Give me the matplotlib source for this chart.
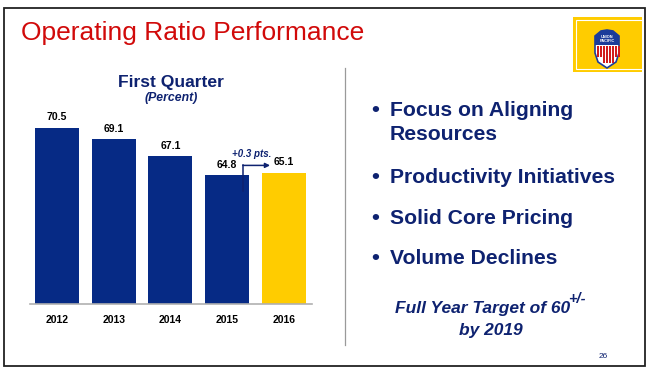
import matplotlib.pyplot as plt
from matplotlib.patches import Rectangle, Polygon

plt.rcParams['font.family'] = ['Liberation Sans', 'DejaVu Sans']

# data
years = ['2012', '2013', '2014', '2015', '2016']
ratios = [70.5, 69.1, 67.1, 64.8, 65.1]
bar_colors = ['#062A85', '#062A85', '#062A85', '#062A85', '#FFCC00']
bullets = ['Focus on Aligning\nResources', 'Productivity Initiatives',
           'Solid Core Pricing', 'Volume Declines']

NAVY = '#0E2270'
W, H = 650, 371


def fx(px):
    return px / W


def fy(py):
    return 1 - py / H


fig = plt.figure(figsize=(6.5, 3.71), dpi=100)
fig.patch.set_facecolor('white')

# slide frame
fig.patches.append(Rectangle((fx(4), fy(366)), fx(641), (366 - 8) / H,
                             transform=fig.transFigure, fill=False,
                             edgecolor='#222222', linewidth=1.3))

# title
fig.text(fx(21), fy(33), 'Operating Ratio Performance', color='#D10A0A',
         fontsize=19, va='center', ha='left')

# logo box (drawn in its own axes, pixel coords)
lax = fig.add_axes([fx(573), fy(72), fx(69), 55 / H], zorder=5)
lax.set_xlim(0, 69)
lax.set_ylim(55, 0)
lax.axis('off')
lax.add_patch(Rectangle((0, 0), 69, 55, facecolor='#FFCC00', edgecolor='none'))
lax.add_patch(Rectangle((3, 3), 70, 49, fill=False, edgecolor='white',
                        linewidth=0.8))
shield = [(22, 19), (28, 14), (34, 13), (40, 14), (46, 19), (46, 36),
          (43, 45), (34, 51), (25, 45), (22, 36)]
lax.add_patch(Polygon(shield, closed=True, facecolor='white',
                      edgecolor='#1B3C9A', linewidth=1.2))
lax.add_patch(Polygon([(22, 19), (28, 14), (34, 13), (40, 14), (46, 19),
                       (46, 28), (22, 28)], closed=True, facecolor='#1B3C9A',
                      edgecolor='none'))
for sx in range(24, 46, 3):
    lax.add_patch(Rectangle((sx, 29), 1.5, 17 if 27 < sx < 42 else 11,
                            facecolor='#D01C1C', edgecolor='none'))
lax.text(34, 19.5, 'UNION', color='white', fontsize=2.8, ha='center',
         va='center', fontweight='bold')
lax.text(34, 24.5, 'PACIFIC', color='white', fontsize=2.8, ha='center',
         va='center', fontweight='bold')

# separator
fig.add_artist(plt.Line2D([fx(345), fx(345)], [fy(68), fy(345)],
                          color='#9A9A9A', linewidth=0.9))

# bar chart
ax = fig.add_axes([fx(30), fy(304), fx(282), 189 / H])
x = list(range(len(years)))
ax.bar(x, ratios, width=0.78, color=bar_colors)
ax.set_ylim(49.5, 72)
ax.set_xlim(-0.477, 4.5)
for s in ['top', 'right', 'left']:
    ax.spines[s].set_visible(False)
ax.spines['bottom'].set_color('#B0B0B0')
ax.spines['bottom'].set_linewidth(1.2)
ax.set_yticks([])
ax.set_xticks(x)
ax.set_xticklabels(years, fontsize=7.5, fontweight='bold')
ax.tick_params(axis='x', length=0, pad=8)

for i, v in enumerate(ratios):
    ax.annotate(f'{v:.1f}', (i, v), xytext=(0, 4),
                textcoords='offset points', ha='center', va='bottom',
                fontsize=7.5, fontweight='bold')

# +0.3 pts. annotation
ax.plot([3.29, 3.29], [63.0, 66.0], color=NAVY, linewidth=1.1)
ax.annotate('', xy=(3.76, 66.0), xytext=(3.28, 66.0),
            arrowprops=dict(arrowstyle='-|>', color=NAVY, lw=1.1,
                            mutation_scale=7, shrinkA=0, shrinkB=0))
ax.text(3.43, 67.3, '+0.3 pts.', color=NAVY, fontsize=7, ha='center',
        va='center', fontweight='bold', style='italic')

fig.text(fx(171), fy(83), 'First Quarter', color=NAVY, fontsize=12.6,
         fontweight='bold', ha='center', va='center')
fig.text(fx(171), fy(98), '(Percent)', color=NAVY, fontsize=8.8,
         fontweight='bold', style='italic', ha='center', va='center')

# bullets
bullet_y = [110, 178, 218, 259]
for txt, by in zip(bullets, bullet_y):
    fig.text(fx(371), fy(by), '\u2022', color=NAVY, fontsize=16,
             ha='left', va='center', fontweight='bold')
    lines = txt.split('\n')
    for k, ln in enumerate(lines):
        fig.text(fx(390), fy(by + 24 * k), ln, color=NAVY, fontsize=15.2,
                 ha='left', va='center', fontweight='bold')

fig.text(fx(395), fy(309), 'Full Year Target of 60', color=NAVY,
         fontsize=12.5, fontweight='bold', style='italic', ha='left',
         va='center')
fig.text(fx(568), fy(299), '+/-', color=NAVY, fontsize=10.5,
         fontweight='bold', style='italic', ha='left', va='center')
fig.text(fx(491), fy(330), 'by 2019', color=NAVY, fontsize=12.5,
         fontweight='bold', style='italic', ha='center', va='center')
fig.text(fx(603), fy(357), '26', color=NAVY, fontsize=6, ha='center',
         va='center')

plt.savefig('out.png', dpi=100)
